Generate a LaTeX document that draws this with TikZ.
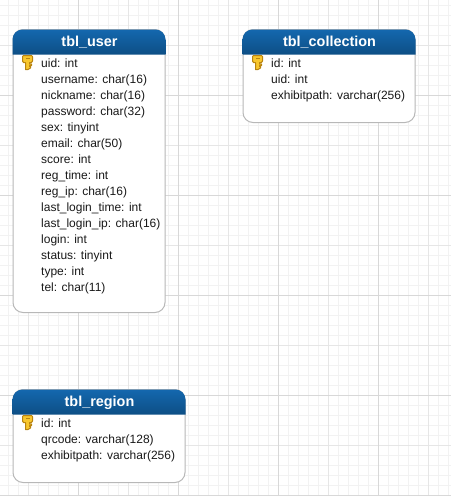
\documentclass[tikz,border=0pt]{standalone}
\usepackage{fontspec}
\setmainfont{Liberation Sans}
\definecolor{gridminor}{HTML}{F2F2F2}
\definecolor{gridmid}{HTML}{E6E6E6}
\definecolor{gridmajor}{HTML}{D8D8D8}
\definecolor{boxline}{HTML}{B8B8B8}
\definecolor{headtop}{HTML}{1467AE}
\definecolor{headbot}{HTML}{0D4F85}
\definecolor{keyfill}{HTML}{F8C72E}
\definecolor{keyline}{HTML}{B98410}
\tikzset{
  gridlow/.style={draw=gridminor,line width=1pt},
  gridmed/.style={draw=gridmid,line width=1pt},
  gridtop/.style={draw=gridmajor,line width=1pt},
  tablebox/.style={rectangle,draw=boxline,fill=white,line width=1pt,rounded corners=10pt,anchor=north west,inner sep=0pt,outer sep=0pt},
  tablehead/.style={top color=headtop,bottom color=headbot,draw=none},
  tabletitle/.style={anchor=base,text=white,inner sep=0pt,font=\fontsize{14.4}{16}\selectfont\bfseries},
  rowtext/.style={anchor=base west,text=black!90,inner sep=0pt,font=\fontsize{12}{14}\selectfont},
  keyicon/.pic={
    \path[draw=keyline,fill=keyfill,line width=1pt,line join=round]
      (0.5,1.5) -- (1.5,0.5) -- (9.5,0.5) -- (10.5,1.5) -- (10.5,6) -- (9.5,7.5) -- (7.5,7.5)
      -- (7.5,9) -- (9.5,9) -- (9.5,10.5) -- (7.5,10.5) -- (7.5,11.5) -- (8.5,11.5) -- (8.5,13)
      -- (6,14.5) -- (3.5,14.5) -- (3.5,7.5) -- (1.5,7.5) -- (0.5,6) -- cycle;
    \path[fill=keyline] (3.5,2.5) rectangle (7.5,4.2);
  },
}
\begin{document}
\begin{tikzpicture}[x=1pt,y=-1pt]
\useasboundingbox (0,0) rectangle (451,496);
\fill[white] (0,0) rectangle (451,496);
% minor grid
\foreach \gx in {8,18,...,448} {\draw[gridlow] (\gx+0.5,0) -- (\gx+0.5,496);}
\foreach \gy in {5,15,...,495} {\draw[gridlow] (0,\gy+0.5) -- (451,\gy+0.5);}
% medium grid
\foreach \gx in {28,128,228,328,428} {\draw[gridmed] (\gx+0.5,0) -- (\gx+0.5,496);}
\foreach \gy in {45,145,245,345,445} {\draw[gridmed] (0,\gy+0.5) -- (451,\gy+0.5);}
% major grid
\foreach \gx in {78,178,278,378} {\draw[gridtop] (\gx+0.5,0) -- (\gx+0.5,496);}
\foreach \gy in {95,195,295,395,495} {\draw[gridtop] (0,\gy+0.5) -- (451,\gy+0.5);}

% tbl_user
\node[tablebox,minimum width=152pt,minimum height=283pt] (user) at (13,29.5) {};
\path[tablehead] (12.5,54.5) -- (12.5,39.5) arc[start angle=180,end angle=90,radius=10pt] -- (155.5,29.5) arc[start angle=90,end angle=0,radius=10pt] -- (165.5,54.5) -- cycle;
\node[tabletitle] (usertitle) at (89.5,46) {tbl\_user};
\pic at (22,55) {keyicon};
\node[rowtext] (u1) at (41,67) {uid: int};
\node[rowtext] (u2) at (41,83) {username: char(16)};
\node[rowtext] (u3) at (41,99) {nickname: char(16)};
\node[rowtext] (u4) at (41,115) {password: char(32)};
\node[rowtext] (u5) at (41,131) {sex: tinyint};
\node[rowtext] (u6) at (41,147) {email: char(50)};
\node[rowtext] (u7) at (41,163) {score: int};
\node[rowtext] (u8) at (41,179) {reg\_time: int};
\node[rowtext] (u9) at (41,195) {reg\_ip: char(16)};
\node[rowtext] (u10) at (41,211) {last\_login\_time: int};
\node[rowtext] (u11) at (41,227) {last\_login\_ip: char(16)};
\node[rowtext] (u12) at (41,243) {login: int};
\node[rowtext] (u13) at (41,259) {status: tinyint};
\node[rowtext] (u14) at (41,275) {type: int};
\node[rowtext] (u15) at (41,291) {tel: char(11)};

% tbl_collection
\node[tablebox,minimum width=172pt,minimum height=93pt] (coll) at (243,29.5) {};
\path[tablehead] (242.5,54.5) -- (242.5,39.5) arc[start angle=180,end angle=90,radius=10pt] -- (405.5,29.5) arc[start angle=90,end angle=0,radius=10pt] -- (415.5,54.5) -- cycle;
\node[tabletitle] (colltitle) at (329.5,46) {tbl\_collection};
\pic at (252,55) {keyicon};
\node[rowtext] (c1) at (271,67) {id: int};
\node[rowtext] (c2) at (271,83) {uid: int};
\node[rowtext] (c3) at (271,99) {exhibitpath: varchar(256)};

% tbl_region
\node[tablebox,minimum width=172pt,minimum height=93pt] (region) at (13,389.5) {};
\path[tablehead] (12.5,414.5) -- (12.5,399.5) arc[start angle=180,end angle=90,radius=10pt] -- (175.5,389.5) arc[start angle=90,end angle=0,radius=10pt] -- (185.5,414.5) -- cycle;
\node[tabletitle] (regiontitle) at (99.5,406) {tbl\_region};
\pic at (22,415) {keyicon};
\node[rowtext] (r1) at (41,427) {id: int};
\node[rowtext] (r2) at (41,443) {qrcode: varchar(128)};
\node[rowtext] (r3) at (41,459) {exhibitpath: varchar(256)};
\end{tikzpicture}
\end{document}
